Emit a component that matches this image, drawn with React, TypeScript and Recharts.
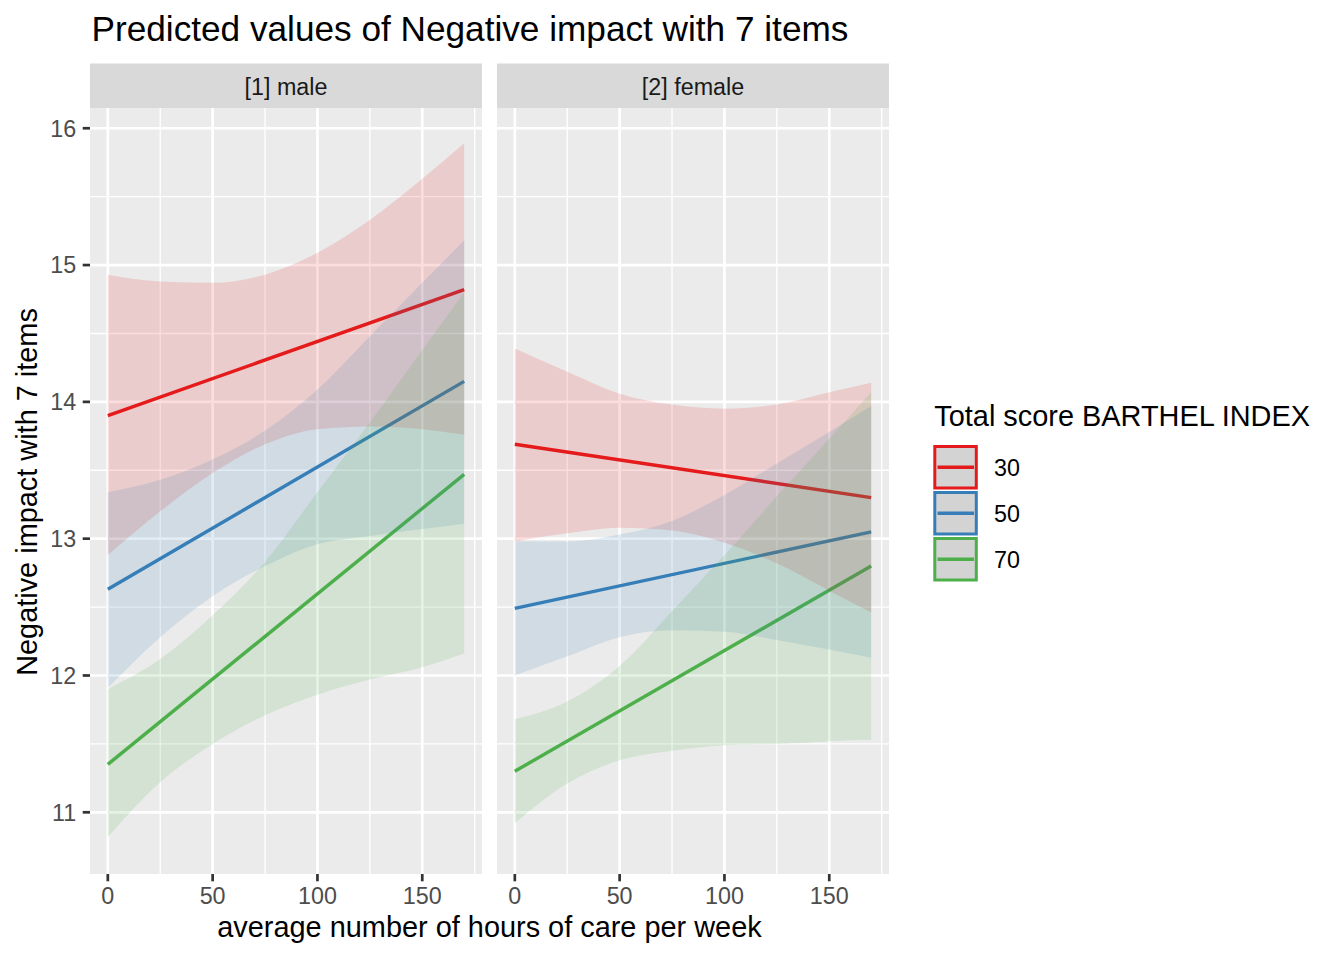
import React from 'react';
import { ComposedChart, Line, Area, XAxis, YAxis, CartesianGrid } from 'recharts';

// ---------- data ----------
const hours = [0, 25, 50, 75, 100, 125, 150, 170];
const lineHours = [0, 170];
const barthelLevels = ['30', '50', '70'];
const seriesColors = ['#E41A1C', '#377EB8', '#4DAF4A'];
const panelLabels = ['[1] male', '[2] female'];

const xMajor = [0, 50, 100, 150];
const xMinor = [25, 75, 125, 175];
const yMajor = [11, 12, 13, 14, 15, 16];
const yMinor = [11.5, 12.5, 13.5, 14.5, 15.5];

// male
const maleFit30 = [13.9, 14.82];
const maleHi30 = [14.93, 14.88, 14.87, 14.93, 15.09, 15.33, 15.63, 15.89];
const maleLo30 = [12.88, 13.2, 13.48, 13.69, 13.8, 13.82, 13.8, 13.76];
const maleFit50 = [12.63, 14.15];
const maleHi50 = [13.34, 13.43, 13.58, 13.79, 14.09, 14.48, 14.87, 15.18];
const maleLo50 = [11.91, 12.28, 12.58, 12.8, 12.96, 13.02, 13.07, 13.11];
const maleFit70 = [11.35, 13.47];
const maleHi70 = [11.9, 12.12, 12.44, 12.83, 13.34, 13.85, 14.38, 14.8];
const maleLo70 = [10.82, 11.22, 11.5, 11.71, 11.86, 11.97, 12.06, 12.16];

// female
const femaleFit30 = [13.69, 13.3];
const femaleHi30 = [14.39, 14.22, 14.06, 13.98, 13.95, 13.98, 14.07, 14.14];
const femaleLo30 = [12.98, 13.04, 13.08, 13.06, 12.97, 12.82, 12.62, 12.46];
const femaleFit50 = [12.49, 13.05];
const femaleHi50 = [12.98, 12.98, 13.03, 13.13, 13.32, 13.55, 13.78, 13.97];
const femaleLo50 = [12.0, 12.14, 12.28, 12.33, 12.32, 12.26, 12.19, 12.13];
const femaleFit70 = [11.3, 12.8];
const femaleHi70 = [11.68, 11.81, 12.07, 12.47, 12.88, 13.31, 13.73, 14.07];
const femaleLo70 = [10.92, 11.21, 11.38, 11.45, 11.49, 11.5, 11.52, 11.53];

// ---------- helpers ----------
const FONT = '"Liberation Sans", Arial, Helvetica, sans-serif';

const bandData = (lo: number[], hi: number[]) =>
  hours.map((h, i) => ({ h, lo: lo[i], hi: hi[i] }));
const fitData = (v: number[]) => lineHours.map((h, i) => ({ h, y: v[i] }));

const panels = [
  {
    label: panelLabels[0],
    fits: [maleFit30, maleFit50, maleFit70],
    his: [maleHi30, maleHi50, maleHi70],
    los: [maleLo30, maleLo50, maleLo70],
  },
  {
    label: panelLabels[1],
    fits: [femaleFit30, femaleFit50, femaleFit70],
    his: [femaleHi30, femaleHi50, femaleHi70],
    los: [femaleLo30, femaleLo50, femaleLo70],
  },
];

const PANEL_W = 392;
const PANEL_H = 766;
const XAXIS_H = 40;
const YAXIS_W = 90;
const PANEL_TOP = 108;
const PANEL_LEFTS = [90, 497];

function Panel({ idx }: { idx: number }) {
  const p = panels[idx];
  const showY = idx === 0;
  const w = PANEL_W + (showY ? YAXIS_W : 0);
  const tickStyle = { fill: '#4D4D4D', fontSize: 23.3, fontFamily: FONT };
  return (
    <div
      style={{
        position: 'absolute',
        left: PANEL_LEFTS[idx] - (showY ? YAXIS_W : 0),
        top: PANEL_TOP,
        width: w,
        height: PANEL_H + XAXIS_H,
      }}
    >
      <ComposedChart
        width={w}
        height={PANEL_H + XAXIS_H}
        margin={{ top: 0, right: 0, bottom: 0, left: 0 }}
      >
        <CartesianGrid
          fill="#EBEBEB"
          stroke="#FFFFFF"
          strokeWidth={1.35}
          horizontalValues={yMinor}
          verticalValues={xMinor}
        />
        <CartesianGrid
          stroke="#FFFFFF"
          strokeWidth={2.7}
          horizontalValues={yMajor}
          verticalValues={xMajor}
        />
        <XAxis
          type="number"
          dataKey="h"
          domain={[-8.5, 178.5]}
          ticks={xMajor}
          interval={0}
          allowDataOverflow
          height={XAXIS_H}
          tickSize={7.3}
          tickMargin={6.5}
          axisLine={false}
          tickLine={{ stroke: '#333333', strokeWidth: 2.7 }}
          tick={tickStyle}
        />
        <YAxis
          type="number"
          domain={[10.549, 16.148]}
          ticks={yMajor}
          interval={0}
          allowDataOverflow
          width={showY ? YAXIS_W : 0}
          hide={!showY}
          tickSize={7.3}
          tickMargin={6.5}
          axisLine={false}
          tickLine={{ stroke: '#333333', strokeWidth: 2.7 }}
          tick={tickStyle}
        />
        {p.fits.map((f, i) => (
          <Line
            key={'l' + i}
            data={fitData(f)}
            dataKey="y"
            type="linear"
            stroke={seriesColors[i]}
            strokeWidth={3.4}
            dot={false}
            activeDot={false}
            isAnimationActive={false}
            zIndex={50}
          />
        ))}
        {p.fits.map((_, i) => (
          <Area
            key={'a' + i}
            data={bandData(p.los[i], p.his[i])}
            dataKey={(d: any) => [d.lo, d.hi]}
            type="monotone"
            stroke="none"
            fill={seriesColors[i]}
            fillOpacity={0.15}
            dot={false}
            activeDot={false}
            isAnimationActive={false}
            zIndex={100}
          />
        ))}
      </ComposedChart>
    </div>
  );
}

function Overlay() {
  return (
    <svg
      width={1344}
      height={960}
      style={{ position: 'absolute', left: 0, top: 0, pointerEvents: 'none' }}
      fontFamily={FONT}
    >
      <text x={91.5} y={40.7} fontSize={35.2} fill="#000000">
        Predicted values of Negative impact with 7 items
      </text>
      {panels.map((p, i) => (
        <g key={i}>
          <rect x={PANEL_LEFTS[i]} y={63.5} width={PANEL_W} height={44.5} fill="#D9D9D9" />
          <text
            x={PANEL_LEFTS[i] + PANEL_W / 2}
            y={94.7}
            fontSize={23.3}
            fill="#1A1A1A"
            textAnchor="middle"
          >
            {p.label}
          </text>
        </g>
      ))}
      <text x={489.5} y={937.3} fontSize={28.9} fill="#000000" textAnchor="middle">
        average number of hours of care per week
      </text>
      <text
        x={36.7}
        y={492}
        fontSize={28.9}
        fill="#000000"
        textAnchor="middle"
        transform="rotate(-90 36.7 492)"
      >
        Negative impact with 7 items
      </text>
      <text x={934.3} y={425.5} fontSize={28.9} fill="#000000">
        Total score BARTHEL INDEX
      </text>
      {barthelLevels.map((lvl, i) => {
        const top = 445 + i * 46;
        return (
          <g key={lvl}>
            <rect
              x={934.8}
              y={top + 1.5}
              width={41.5}
              height={41.5}
              fill="#D3D3D3"
              stroke={seriesColors[i]}
              strokeWidth={3}
            />
            <line
              x1={937.5}
              x2={974}
              y1={top + 22.2}
              y2={top + 22.2}
              stroke={seriesColors[i]}
              strokeWidth={3.4}
            />
            <text x={994} y={top + 30.7} fontSize={23.3} fill="#000000">
              {lvl}
            </text>
          </g>
        );
      })}
    </svg>
  );
}

export default function App() {
  return (
    <div
      style={{
        position: 'absolute',
        left: 0,
        top: 0,
        width: 1344,
        height: 960,
        background: '#FFFFFF',
        overflow: 'hidden',
      }}
    >
      <Panel idx={0} />
      <Panel idx={1} />
      <Overlay />
    </div>
  );
}
